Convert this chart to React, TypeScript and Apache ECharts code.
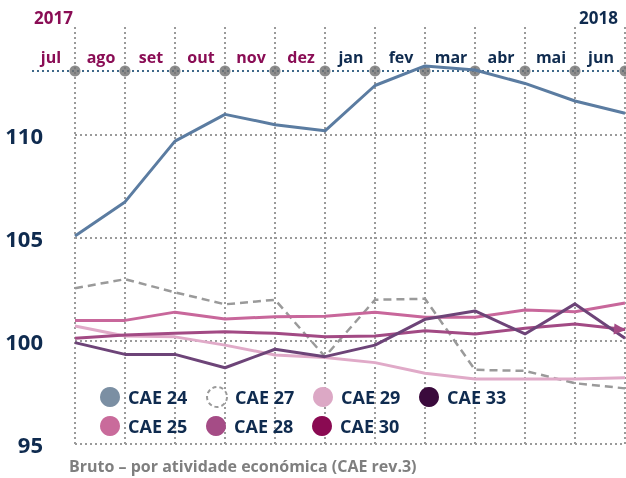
import React, { useEffect, useRef } from "react";
import * as echarts from "echarts";

const MONTHS = ["jul", "ago", "set", "out", "nov", "dez", "jan", "fev", "mar", "abr", "mai", "jun"];
const MONTH_YEAR = [2017, 2017, 2017, 2017, 2017, 2017, 2018, 2018, 2018, 2018, 2018, 2018];
const YEARS = ["2017", "2018"];

const CAE24 = [105.1, 106.75, 109.7, 111.0, 110.5, 110.2, 112.4, 113.35, 113.15, 112.5, 111.65, 111.05];
const CAE25 = [101.0, 101.0, 101.4, 101.07, 101.18, 101.2, 101.4, 101.15, 101.15, 101.5, 101.42, 101.84];
const CAE27 = [102.56, 103.0, 102.36, 101.78, 102.0, 99.24, 102.0, 102.05, 98.6, 98.55, 97.95, 97.7];
const CAE28 = [100.13, 100.29, 100.37, 100.45, 100.37, 100.2, 100.24, 100.5, 100.34, 100.62, 100.82, 100.56];
const CAE29 = [100.73, 100.24, 100.2, 99.8, 99.32, 99.2, 98.95, 98.43, 98.16, 98.15, 98.16, 98.22];
const CAE30: number[] = [];
const CAE33 = [99.92, 99.35, 99.35, 98.7, 99.6, 99.24, 99.8, 101.05, 101.46, 100.34, 101.8, 100.13];

const Y_TICKS = [95, 100, 105, 110];
const TOP_LINE_VALUE = 113.1;

const NAVY = "#0f2b4f";
const MAGENTA = "#8a0d55";
const FONT = "'Open Sans', sans-serif";

export default function App() {
  const ref = useRef<HTMLDivElement>(null);
  useEffect(() => {
    if (!ref.current) return;
    const chart = echarts.init(ref.current, null, { renderer: "svg" });
    const yearColor = (y: number) => (y === 2017 ? MAGENTA : NAVY);
    const lineSeries = (name: string, data: any[], color: string, extra: any = {}) => ({
      name,
      type: "line",
      data,
      symbol: "none",
      showSymbol: true,
      clip: false,
      z: 4,
      lineStyle: { color, width: 3 },
      itemStyle: { color },
      ...extra,
    });
    const data28: any[] = CAE28.map((v, i) =>
      i === CAE28.length - 1
        ? { value: v, symbol: "triangle", symbolSize: [11, 12], symbolRotate: -95, symbolOffset: [-5, 0] }
        : v
    );
    chart.setOption({
      animation: false,
      grid: { left: 75, right: 1, top: 27, bottom: 34 },
      title: {
        text: "Bruto – por atividade económica (CAE rev.3)",
        left: 69,
        top: 457,
        padding: 0,
        textStyle: { fontFamily: FONT, fontSize: 16, fontWeight: "bold", color: "#7f7f7f", lineHeight: 18 },
      },
      legend: {
        left: 100,
        top: 386,
        width: 440,
        padding: 0,
        icon: "circle",
        itemWidth: 20,
        itemHeight: 20,
        itemGap: 7,
        selectedMode: false,
        formatter: (name: string) => `{a|${name}}`,
        textStyle: {
          fontFamily: FONT,
          fontSize: 18,
          fontWeight: "bold",
          color: NAVY,
          rich: {
            a: {
              fontFamily: FONT,
              fontSize: 18,
              fontWeight: "bold",
              color: NAVY,
              width: 71,
              height: 20,
              lineHeight: 20,
              padding: [0, 0, 0, 3],
            },
          },
        },
        data: [
          { name: "CAE 24", itemStyle: { color: "#7b8fa3", borderWidth: 0 } },
          { name: "CAE 27", itemStyle: { color: "#ffffff", borderColor: "#9a9a9a", borderWidth: 2, borderType: [4, 3] } },
          { name: "CAE 29", itemStyle: { color: "#dca8c5", borderWidth: 0 } },
          { name: "CAE 33", itemStyle: { color: "#3a0a3c", borderWidth: 0 } },
          { name: "CAE 25", itemStyle: { color: "#c96b9b", borderWidth: 0 } },
          { name: "CAE 28", itemStyle: { color: "#a54c86", borderWidth: 0 } },
          { name: "CAE 30", itemStyle: { color: "#8a0a52", borderWidth: 0 } },
        ],
      },
      graphic: [
        {
          type: "line",
          z: 1,
          shape: { x1: 32, y1: 71, x2: 626, y2: 71 },
          style: { stroke: "#3e6889", lineWidth: 2, lineDash: [2, 3] },
        },
        {
          type: "text",
          right: 553,
          top: 9,
          style: { text: YEARS[0], fill: MAGENTA, font: `bold 17px ${FONT}` },
        },
        {
          type: "text",
          right: 8,
          top: 9,
          style: { text: YEARS[1], fill: NAVY, font: `bold 17px ${FONT}` },
        },
      ],
      xAxis: {
        type: "category",
        position: "top",
        boundaryGap: false,
        data: MONTHS.map((m, i) => ({ value: m, textStyle: { color: yearColor(MONTH_YEAR[i]) } })),
        axisLine: { show: false },
        axisTick: { show: false },
        axisLabel: {
          inside: true,
          interval: 0,
          margin: 22,
          fontFamily: FONT,
          fontSize: 16,
          fontWeight: "bold",
          padding: [0, 48, 0, 0],
          hideOverlap: false,
        },
        splitLine: {
          show: true,
          interval: 0,
          lineStyle: { color: "#9a9a9a", width: 2, type: [2, 3] },
        },
      },
      yAxis: {
        type: "value",
        min: 95,
        max: 115.24,
        interval: 5,
        axisLine: { show: false },
        axisTick: { show: false },
        axisLabel: {
          margin: 32,
          fontFamily: FONT,
          fontSize: 22,
          fontWeight: "bold",
          color: NAVY,
          showMaxLabel: false,
          formatter: (v: number) => (Y_TICKS.indexOf(v) >= 0 ? String(v) : ""),
        },
        splitLine: {
          show: true,
          lineStyle: {
            color: ["#9a9a9a", "#9a9a9a", "#9a9a9a", "#9a9a9a", "transparent", "transparent"],
            width: 2,
            type: [2, 3],
          },
        },
      },
      series: [
        {
          name: "marks",
          type: "scatter",
          data: MONTHS.map((m) => [m, TOP_LINE_VALUE]),
          symbol: "circle",
          symbolSize: 11,
          itemStyle: { color: "#707070" },
          z: 3,
          silent: true,
        },
        lineSeries("CAE 27", CAE27, "#9a9a9a", { lineStyle: { color: "#9a9a9a", width: 2.5, type: [8, 5] } }),
        lineSeries("CAE 29", CAE29, "#e0aac8"),
        lineSeries("CAE 30", CAE30, "#8a0a52"),
        lineSeries("CAE 28", data28, "#a24a84"),
        lineSeries("CAE 25", CAE25, "#c8679b"),
        lineSeries("CAE 33", CAE33, "#6d4478"),
        lineSeries("CAE 24", CAE24, "#5b7ca1"),
      ],
    });
    return () => chart.dispose();
  }, []);
  return <div ref={ref} style={{ position: "fixed", left: 0, top: 0, width: 626, height: 478 }} />;
}
